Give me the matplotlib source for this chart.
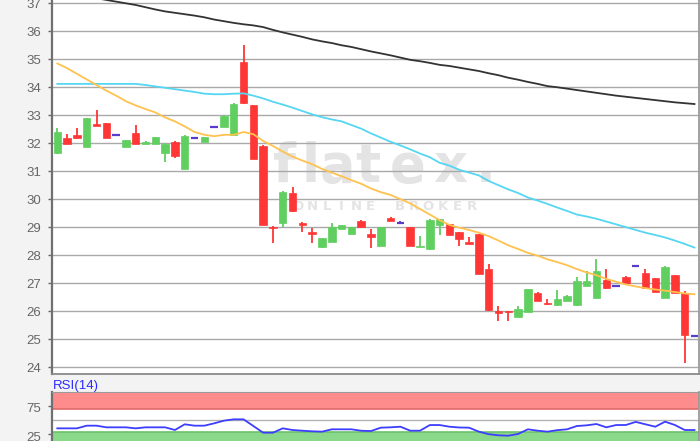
import matplotlib
matplotlib.use("Agg")
import matplotlib.pyplot as plt
import matplotlib.transforms as mtransforms
import numpy as np

# ---------------- data ----------------
opens = [31.64, 32.18, 32.30, 31.87, 32.69, 32.71, 32.30, 31.88, 32.35, 31.98,
         31.98, 31.64, 32.06, 31.08, 32.18, 32.06, 32.59, 32.59, 32.30, 34.91,
         33.37, 31.91, 29.02, 29.16, 30.23, 29.16, 28.84, 28.28, 28.48, 28.94,
         28.75, 29.23, 28.74, 28.34, 29.34, 29.14, 28.99, 28.30, 28.21, 29.08,
         29.11, 28.82, 28.46, 28.74, 27.49, 26.00, 26.00, 25.80, 25.98, 26.66,
         26.28, 26.20, 26.36, 26.20, 26.90, 26.48, 27.11, 26.91, 27.21, 27.61,
         27.35, 27.17, 26.48, 27.29, 26.64, 25.11]
highs = [32.55, 32.32, 32.53, 32.90, 33.19, 32.73, 32.30, 32.12, 32.64, 32.07,
         32.22, 31.99, 32.07, 32.28, 32.18, 32.22, 32.59, 32.99, 33.42, 35.51,
         33.38, 31.93, 29.03, 30.28, 30.45, 29.20, 28.96, 28.61, 29.16, 29.08,
         29.00, 29.24, 28.93, 29.00, 29.35, 29.23, 29.00, 28.68, 29.30, 29.30,
         29.12, 28.83, 28.63, 28.75, 27.68, 26.18, 26.01, 26.18, 26.80, 26.67,
         26.42, 26.75, 26.56, 27.21, 27.43, 27.85, 27.49, 26.91, 27.26, 27.61,
         27.49, 27.18, 27.60, 27.30, 26.73, 25.11]
lows = [31.62, 31.97, 32.15, 31.86, 32.60, 32.19, 32.30, 31.87, 31.97, 31.98,
        31.98, 31.34, 31.48, 31.07, 32.18, 32.05, 32.59, 32.58, 32.29, 33.40,
        31.42, 29.07, 28.42, 28.99, 29.55, 28.84, 28.42, 28.27, 28.47, 28.93,
        28.74, 29.00, 28.24, 28.33, 29.22, 29.14, 28.33, 28.30, 28.20, 28.72,
        28.71, 28.34, 28.39, 27.32, 26.00, 25.66, 25.66, 25.79, 25.97, 26.35,
        26.23, 26.19, 26.35, 26.19, 26.89, 26.47, 26.80, 26.91, 27.00, 27.61,
        26.80, 26.68, 26.47, 26.63, 24.16, 25.11]
closes = [32.39, 31.98, 32.17, 32.89, 32.62, 32.20, 32.30, 32.11, 31.98, 32.06,
          32.21, 31.98, 31.54, 32.27, 32.18, 32.21, 32.59, 32.98, 33.41, 33.42,
          31.44, 29.08, 28.97, 30.27, 29.59, 29.08, 28.75, 28.60, 28.99, 29.07,
          28.99, 29.01, 28.63, 28.99, 29.23, 29.14, 28.34, 28.34, 29.25, 29.28,
          28.72, 28.58, 28.40, 27.33, 26.04, 25.94, 25.95, 26.06, 26.79, 26.36,
          26.24, 26.42, 26.55, 27.08, 27.08, 27.43, 26.81, 26.91, 27.01, 27.61,
          26.81, 26.69, 27.59, 26.64, 25.15, 25.11]

ma_orange = [34.85, 34.68, 34.48, 34.28, 34.08, 33.88, 33.70, 33.50, 33.35, 33.22,
             33.10, 32.92, 32.78, 32.60, 32.40, 32.30, 32.25, 32.30, 32.30, 32.40,
             32.32, 32.08, 31.90, 31.70, 31.52, 31.38, 31.25, 31.08, 30.95, 30.82,
             30.68, 30.55, 30.38, 30.25, 30.15, 30.00, 29.85, 29.65, 29.45, 29.25,
             29.08, 28.98, 28.90, 28.80, 28.68, 28.52, 28.35, 28.22, 28.08, 27.98,
             27.85, 27.75, 27.64, 27.50, 27.38, 27.28, 27.15, 27.05, 26.95, 26.88,
             26.82, 26.77, 26.73, 26.68, 26.63, 26.60]
ma_cyan = [34.12, 34.12, 34.12, 34.12, 34.12, 34.12, 34.12, 34.12, 34.12, 34.08,
           34.03, 33.98, 33.93, 33.88, 33.83, 33.77, 33.75, 33.75, 33.77, 33.78,
           33.70, 33.60, 33.48, 33.38, 33.27, 33.15, 33.03, 32.93, 32.85, 32.78,
           32.65, 32.52, 32.35, 32.20, 32.05, 31.92, 31.78, 31.63, 31.50, 31.30,
           31.20, 31.05, 30.95, 30.85, 30.65, 30.50, 30.35, 30.22, 30.06, 29.95,
           29.83, 29.70, 29.58, 29.45, 29.38, 29.30, 29.20, 29.10, 29.00, 28.90,
           28.80, 28.72, 28.63, 28.52, 28.40, 28.27]
ma_black = [37.45, 37.38, 37.32, 37.25, 37.18, 37.12, 37.06, 37.00, 36.94, 36.86,
            36.78, 36.71, 36.66, 36.61, 36.56, 36.50, 36.42, 36.36, 36.30, 36.25,
            36.21, 36.15, 36.05, 35.96, 35.88, 35.80, 35.71, 35.64, 35.58, 35.50,
            35.44, 35.36, 35.28, 35.21, 35.14, 35.06, 34.98, 34.93, 34.87, 34.80,
            34.76, 34.70, 34.64, 34.58, 34.50, 34.43, 34.34, 34.27, 34.19, 34.12,
            34.04, 34.00, 33.95, 33.90, 33.85, 33.80, 33.75, 33.70, 33.66, 33.62,
            33.58, 33.54, 33.50, 33.46, 33.43, 33.40]
rsi = [35.7, 35.7, 35.7, 40.4, 40.4, 37.5, 37.5, 37.5, 35.7, 37.5,
       37.5, 37.5, 32.8, 42.8, 40.4, 40.4, 44.5, 49.2, 51.5, 51.5,
       39.8, 28.1, 28.1, 35.7, 32.8, 31.6, 30.5, 29.9, 34.0, 34.0,
       34.0, 31.5, 31.0, 36.9, 37.5, 38.6, 31.6, 31.6, 41.5, 41.5,
       38.6, 37.2, 36.9, 29.9, 25.5, 23.5, 22.8, 25.8, 34.0, 31.6,
       29.9, 32.5, 34.0, 39.8, 41.0, 43.3, 37.5, 41.5, 41.6, 47.0,
       42.8, 38.6, 47.4, 41.6, 32.8, 32.8]

price_ticks = list(range(24, 38))
rsi_ticks = [75, 25]
rsi_upper, rsi_mid, rsi_lower = 70, 50, 30
rsi_title = "RSI(14)"
logo_word = "flatex."
logo_sub = "ONLINE BROKER"

# ---------------- styling ----------------
W, H = 700, 441
C_UP, C_DN, C_DOJI = "#5fcf5f", "#ff3636", "#5a3ccc"
fig = plt.figure(figsize=(W / 100, H / 100), dpi=100, facecolor="#f3f3f3")
plt.rcParams["font.family"] = ["Liberation Sans", "DejaVu Sans"]

def px_rect(l, t, r, b):
    return [l / W, (H - b) / H, (r - l) / W, (b - t) / H]

ax = fig.add_axes(px_rect(52, 0, 699, 374.3))
ax2 = fig.add_axes(px_rect(52, 391.7, 699, 448.7))

n = len(opens)
x = np.arange(n)
xlim = (-0.54, n - 1 + 0.46)

# ---- main price panel ----
ax.set_facecolor("white")
ax.set_xlim(*xlim)
ax.set_ylim(23.74, 37.118)
ax.set_yticks(price_ticks)
ax.grid(axis="y", color="#a9a9a9", lw=1.0)
ax.set_axisbelow(True)
ax.tick_params(axis="y", length=3, width=1, color="#666666", labelsize=9.5,
               labelcolor="#666666", pad=5)
ax.tick_params(axis="x", bottom=False, labelbottom=False)
ax.spines["top"].set_visible(False)
ax.spines["left"].set_color("#707070")
ax.spines["left"].set_linewidth(1.6)
ax.spines["right"].set_color("#9a9a9a")
ax.spines["right"].set_linewidth(1.3)
ax.spines["bottom"].set_color("#8a8a8a")
ax.spines["bottom"].set_linewidth(1.3)

# watermark
wm_color = "#e4e4e4"
letter_px = [284, 311, 338, 368, 408, 450, 486]
for ch, lx in zip(logo_word, letter_px):
    ax.text(lx / W, (H - 182) / H, ch, transform=fig.transFigure, ha="center",
            va="baseline", fontsize=38, fontweight="bold", color=wm_color,
            family="DejaVu Sans", zorder=0.2)
for k, ch in enumerate(logo_sub):
    ax.text((298 + 14.5 * k) / W, (H - 206) / H, ch, transform=fig.transFigure,
            ha="center", va="center", fontsize=9.5, fontweight="bold",
            color=wm_color, family="DejaVu Sans", zorder=0.2)

# candles
bw = 0.76
for i in range(n):
    o, h, l, c = opens[i], highs[i], lows[i], closes[i]
    if c > o:
        col = C_UP
    elif c < o:
        col = C_DN
    else:
        col = C_DOJI
    if h > max(o, c) or l < min(o, c):
        ax.vlines(x[i], l, h, color=col, lw=1.3, zorder=3)
    if c == o:
        ax.hlines(o, x[i] - bw / 2, x[i] + bw / 2, color=col, lw=1.6, zorder=3)
    else:
        ax.bar(x[i], abs(c - o), bottom=min(o, c), width=bw, color=col,
               edgecolor=col, lw=0.5, zorder=3)

ax.plot(x, ma_black, color="#333333", lw=1.3, zorder=4)
ax.plot(x, ma_cyan, color="#55d6f3", lw=1.3, zorder=4)
ax.plot(x, ma_orange, color="#ffc24f", lw=1.3, zorder=4)

# ---- RSI panel ----
ax2.set_facecolor("white")
ax2.set_xlim(*xlim)
ax2.set_ylim(0, 100)
ax2.axhspan(rsi_upper, 100, color="#ff8c8c", lw=0, zorder=0.3)
ax2.axhline(rsi_upper, color="#e06a6a", lw=1.2, zorder=0.4)
ax2.axhspan(0, rsi_lower, color="#8ad88a", lw=0, zorder=0.3)
ax2.axhline(rsi_lower, color="#6cc26c", lw=1.2, zorder=0.4)
ax2.axhline(rsi_mid, color="#b3b3b3", lw=1.0, zorder=0.4)
ax2.plot(x, rsi, color="#3d3dff", lw=1.3, zorder=3)
ax2.set_yticks(rsi_ticks)
ax2.tick_params(axis="y", length=3, width=1, color="#666666", labelsize=9.5,
                labelcolor="#666666", pad=5)
ax2.tick_params(axis="x", bottom=False, labelbottom=False)
off = mtransforms.ScaledTranslation(0, -2.0 / 100, fig.dpi_scale_trans)
for lab in ax2.get_yticklabels():
    lab.set_transform(lab.get_transform() + off)
ax2.spines["top"].set_color("#9a9a9a")
ax2.spines["left"].set_color("#707070")
ax2.spines["left"].set_linewidth(1.6)
ax2.spines["right"].set_color("#9a9a9a")
ax2.spines["right"].set_linewidth(1.3)
ax2.spines["bottom"].set_visible(False)
ax2.text(0.002, 0.99, rsi_title, transform=ax2.transAxes, ha="left",
         va="bottom", fontsize=9.5, color="#2b2bff")

fig.savefig("out.png", dpi=100, facecolor=fig.get_facecolor())
